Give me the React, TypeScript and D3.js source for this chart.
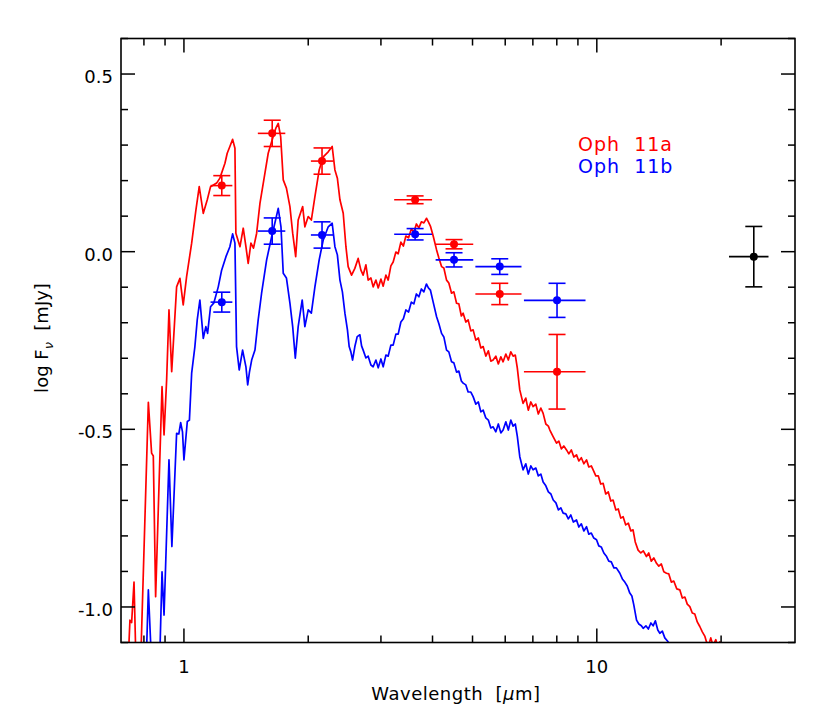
import { scaleLog, scaleLinear, line, range } from 'd3'

// model spectra: [wavelength (um), log F_nu (mJy)]
const OPH11A_SPECTRUM: [number, number][] = [
  [0.733, -1.15], [0.740, -1.037], [0.747, -1.044], [0.757, -0.930], [0.765, -1.15], [0.786, -1.15],
  [0.820, -0.424], [0.835, -0.567], [0.843, -0.575], [0.854, -0.971], [0.885, -0.380], [0.895, -0.516],
  [0.908, -0.361], [0.920, -0.164], [0.934, -0.338], [0.960, -0.099], [0.978, -0.075], [0.996, -0.150],
  [1.015, -0.070], [1.044, 0.024], [1.069, 0.117], [1.089, 0.183], [1.114, 0.108], [1.139, 0.146],
  [1.160, 0.183], [1.200, 0.193], [1.222, 0.207], [1.257, 0.249], [1.273, 0.277], [1.292, 0.296],
  [1.312, 0.316], [1.329, 0.291], [1.336, 0.052], [1.367, 0.014], [1.392, 0.066], [1.413, 0.014],
  [1.431, -0.033], [1.453, 0.024], [1.474, 0.010], [1.500, 0.052], [1.528, 0.136], [1.571, 0.221],
  [1.600, 0.277], [1.645, 0.324], [1.670, 0.348], [1.692, 0.361], [1.715, 0.324], [1.740, 0.202],
  [1.771, 0.179], [1.806, 0.127], [1.834, 0.052], [1.865, -0.014], [1.891, 0.089], [1.939, 0.127],
  [1.963, 0.070], [2.000, 0.099], [2.035, 0.089], [2.076, 0.155], [2.126, 0.230], [2.175, 0.267],
  [2.236, 0.281], [2.286, 0.296], [2.321, 0.230], [2.353, 0.207], [2.387, 0.146], [2.431, 0.108],
  [2.468, 0.014], [2.499, -0.042], [2.547, -0.066], [2.594, -0.047], [2.642, -0.019], [2.683, -0.052],
  [2.717, -0.066], [2.759, -0.037], [2.794, -0.080], [2.837, -0.074], [2.873, -0.099], [2.917, -0.080],
  [2.955, -0.102], [3.000, -0.077], [3.038, -0.097], [3.084, -0.066], [3.124, -0.080], [3.171, -0.040],
  [3.212, -0.029], [3.261, -0.001], [3.303, -0.006], [3.353, 0.027], [3.400, 0.016], [3.448, 0.044],
  [3.500, 0.039], [3.554, 0.064], [3.605, 0.055], [3.656, 0.078], [3.707, 0.067], [3.759, 0.084],
  [3.812, 0.081], [3.870, 0.094], [3.909, 0.084], [3.953, 0.072], [4.015, 0.044], [4.092, 0.005],
  [4.145, -0.018], [4.207, -0.042], [4.261, -0.046], [4.326, -0.080], [4.381, -0.088], [4.448, -0.117],
  [4.506, -0.113], [4.574, -0.145], [4.633, -0.147], [4.698, -0.181], [4.745, -0.173], [4.817, -0.198],
  [4.879, -0.192], [4.953, -0.223], [5.017, -0.220], [5.093, -0.249], [5.165, -0.243], [5.237, -0.271],
  [5.305, -0.267], [5.385, -0.294], [5.461, -0.279], [5.537, -0.308], [5.609, -0.305], [5.694, -0.294],
  [5.774, -0.316], [5.855, -0.296], [5.930, -0.310], [6.021, -0.288], [6.105, -0.305], [6.190, -0.282],
  [6.270, -0.294], [6.347, -0.291], [6.418, -0.327], [6.508, -0.389], [6.628, -0.427], [6.729, -0.412],
  [6.824, -0.446], [6.920, -0.423], [7.010, -0.436], [7.116, -0.429], [7.217, -0.457], [7.318, -0.440],
  [7.413, -0.455], [7.525, -0.485], [7.632, -0.491], [7.696, -0.502], [7.826, -0.519], [7.988, -0.539],
  [8.091, -0.533], [8.204, -0.555], [8.320, -0.547], [8.446, -0.558], [8.555, -0.569], [8.676, -0.558],
  [8.798, -0.578], [8.930, -0.572], [9.046, -0.589], [9.173, -0.580], [9.301, -0.597], [9.443, -0.586],
  [9.563, -0.606], [9.698, -0.603], [9.797, -0.614], [9.945, -0.631], [10.08, -0.631], [10.22, -0.654],
  [10.36, -0.652], [10.51, -0.682], [10.66, -0.676], [10.81, -0.702], [10.95, -0.699], [11.12, -0.727],
  [11.27, -0.724], [11.43, -0.750], [11.58, -0.746], [11.75, -0.769], [11.92, -0.764], [12.09, -0.786],
  [12.24, -0.783], [12.39, -0.817], [12.59, -0.840], [12.78, -0.848], [12.96, -0.842], [13.19, -0.858],
  [13.36, -0.848], [13.55, -0.871], [13.74, -0.862], [13.95, -0.877], [14.13, -0.885], [14.33, -0.879],
  [14.53, -0.901], [14.75, -0.905], [14.94, -0.907], [15.15, -0.930], [15.36, -0.927], [15.62, -0.949],
  [15.89, -0.952], [16.11, -0.975], [16.34, -0.972], [16.56, -0.992], [16.80, -0.999], [17.03, -1.017],
  [17.27, -1.020], [17.51, -1.042], [17.76, -1.055], [18.01, -1.070], [18.26, -1.082], [18.43, -1.098],
  [18.67, -1.107], [18.88, -1.087], [19.12, -1.109], [19.42, -1.092], [19.64, -1.115], [19.86, -1.098],
  [20.19, -1.121],
]

const OPH11B_SPECTRUM: [number, number][] = [
  [0.812, -1.12], [0.820, -0.952], [0.832, -1.12], [0.875, -1.12], [0.885, -0.901], [0.895, -1.023],
  [0.920, -0.586], [0.935, -0.830], [0.960, -0.511], [0.972, -0.513], [0.982, -0.481], [0.992, -0.507],
  [1.000, -0.586], [1.019, -0.478], [1.031, -0.474], [1.044, -0.342], [1.063, -0.267], [1.077, -0.192],
  [1.093, -0.136], [1.114, -0.244], [1.130, -0.211], [1.141, -0.230], [1.160, -0.155], [1.182, -0.144],
  [1.211, -0.099], [1.234, -0.052], [1.264, -0.014], [1.292, 0.014], [1.312, 0.050], [1.329, 0.024],
  [1.341, -0.267], [1.361, -0.333], [1.387, -0.277], [1.413, -0.324], [1.427, -0.375], [1.441, -0.339],
  [1.459, -0.305], [1.486, -0.277], [1.513, -0.192], [1.542, -0.117], [1.586, -0.023], [1.631, 0.042],
  [1.667, 0.089], [1.692, 0.122], [1.718, 0.070], [1.740, -0.061], [1.771, -0.074], [1.806, -0.145],
  [1.834, -0.211], [1.861, -0.300], [1.891, -0.211], [1.934, -0.136], [1.963, -0.211], [2.000, -0.164],
  [2.035, -0.173], [2.076, -0.099], [2.126, -0.023], [2.175, 0.033], [2.236, 0.070], [2.286, 0.080],
  [2.321, 0.014], [2.353, -0.009], [2.387, -0.080], [2.420, -0.113], [2.454, -0.173], [2.489, -0.220],
  [2.513, -0.267], [2.537, -0.282], [2.561, -0.305], [2.594, -0.267], [2.628, -0.239], [2.668, -0.234],
  [2.693, -0.265], [2.717, -0.277], [2.759, -0.299], [2.794, -0.294], [2.837, -0.319], [2.873, -0.324],
  [2.917, -0.305], [2.955, -0.327], [3.000, -0.302], [3.038, -0.324], [3.084, -0.291], [3.124, -0.294],
  [3.171, -0.263], [3.212, -0.263], [3.261, -0.232], [3.303, -0.232], [3.353, -0.198], [3.400, -0.189],
  [3.448, -0.164], [3.500, -0.170], [3.554, -0.142], [3.605, -0.147], [3.656, -0.119], [3.707, -0.127],
  [3.759, -0.105], [3.812, -0.113], [3.866, -0.091], [3.909, -0.102], [3.953, -0.108], [4.015, -0.142],
  [4.092, -0.183], [4.145, -0.203], [4.207, -0.230], [4.261, -0.240], [4.326, -0.277], [4.381, -0.282],
  [4.448, -0.310], [4.506, -0.313], [4.574, -0.339], [4.633, -0.336], [4.698, -0.364], [4.745, -0.370],
  [4.817, -0.375], [4.879, -0.395], [4.953, -0.395], [5.017, -0.408], [5.093, -0.429], [5.165, -0.423],
  [5.237, -0.451], [5.305, -0.446], [5.385, -0.468], [5.461, -0.474], [5.537, -0.496], [5.609, -0.493],
  [5.694, -0.507], [5.774, -0.485], [5.855, -0.510], [5.930, -0.502], [6.021, -0.479], [6.105, -0.502],
  [6.190, -0.474], [6.270, -0.491], [6.347, -0.485], [6.418, -0.519], [6.508, -0.577], [6.628, -0.614],
  [6.729, -0.597], [6.824, -0.626], [6.920, -0.603], [7.010, -0.614], [7.116, -0.609], [7.217, -0.631],
  [7.318, -0.626], [7.413, -0.648], [7.525, -0.659], [7.632, -0.676], [7.741, -0.682], [7.842, -0.699],
  [7.961, -0.707], [8.073, -0.727], [8.182, -0.721], [8.289, -0.736], [8.414, -0.738], [8.531, -0.752],
  [8.650, -0.741], [8.773, -0.761], [8.930, -0.755], [9.046, -0.775], [9.173, -0.766], [9.301, -0.786],
  [9.443, -0.774], [9.563, -0.795], [9.698, -0.792], [9.834, -0.806], [9.984, -0.811], [10.11, -0.828],
  [10.25, -0.831], [10.40, -0.848], [10.56, -0.858], [10.69, -0.871], [10.84, -0.873], [11.00, -0.890],
  [11.15, -0.890], [11.37, -0.905], [11.53, -0.921], [11.69, -0.930], [11.85, -0.941], [12.02, -0.961],
  [12.16, -0.969], [12.29, -0.994], [12.48, -1.037], [12.64, -1.048], [12.82, -1.053], [12.95, -1.060],
  [13.15, -1.053], [13.33, -1.062], [13.52, -1.045], [13.69, -1.053], [13.86, -1.039], [14.05, -1.065],
  [14.21, -1.074], [14.41, -1.068], [14.61, -1.087], [14.88, -1.098], [15.03, -1.115],
]

// photometry (J, H, K, IRAC 3.6/4.5/5.8/8.0)
const BAND_WAVE = [1.235, 1.636, 2.16, 3.63, 4.51, 5.82, 8.01]
const BAND_LO = [1.16, 1.51, 2.03, 3.23, 4.07, 5.08, 6.66]
const BAND_HI = [1.31, 1.76, 2.3, 3.99, 5.02, 6.57, 9.39]
const OPH11A_FLUX = [0.186, 0.333, 0.255, 0.146, 0.021, -0.119, -0.338]
const OPH11A_ERR = [0.028, 0.037, 0.037, 0.011, 0.013, 0.03, 0.105]
const OPH11B_FLUX = [-0.142, 0.058, 0.047, 0.049, -0.023, -0.042, -0.137]
const OPH11B_ERR = [0.028, 0.037, 0.037, 0.016, 0.02, 0.022, 0.048]

// unresolved 24 um point
const MIPS_WAVE = [24.0]
const MIPS_LO = [20.9]
const MIPS_HI = [26.05]
const MIPS_FLUX = [-0.014]
const MIPS_ERR = [0.085]

const X_MAJOR = [1, 10]
const X_MINOR = [0.8, 0.9, 2, 3, 4, 5, 6, 7, 8, 9, 20]
const Y_MAJOR = [-1.0, -0.5, 0.0, 0.5]
const LEGEND = ['Oph\u00a0\u00a011a', 'Oph\u00a0\u00a011b']

const RED = '#ff0000'
const BLUE = '#0000ff'
const FONT = '"DejaVu Sans", sans-serif'

function ErrPoints({ x, y, wave, lo, hi, flux, err, color }: any) {
  const cap = 8.5
  return (
    <g stroke={color} strokeWidth={1.6} fill={color}>
      {wave.map((w: number, i: number) => (
        <g key={i}>
          <line x1={x(lo[i])} x2={x(hi[i])} y1={y(flux[i])} y2={y(flux[i])} />
          <line x1={x(w)} x2={x(w)} y1={y(flux[i] + err[i])} y2={y(flux[i] - err[i])} />
          <line x1={x(w) - cap} x2={x(w) + cap} y1={y(flux[i] + err[i])} y2={y(flux[i] + err[i])} />
          <line x1={x(w) - cap} x2={x(w) + cap} y1={y(flux[i] - err[i])} y2={y(flux[i] - err[i])} />
          <circle cx={x(w)} cy={y(flux[i])} r={4} stroke='none' />
        </g>
      ))}
    </g>
  )
}

export default function App() {
  const width = 830
  const height = 724
  const left = 121
  const right = 795
  const top = 38.5
  const bottom = 642.5

  const x = scaleLog().domain([0.704, 30.2]).range([left, right])
  const y = scaleLinear().domain([-1.1, 0.6]).range([bottom, top])

  const yMinor = range(-11, 7).map((d) => d / 10).filter((d) => Math.round(d * 10) % 5 !== 0)

  const path = line<[number, number]>()
    .x((d) => x(d[0]))
    .y((d) => y(d[1]))

  const major = 14
  const minor = 7

  return (
    <svg
      width={width}
      height={height}
      style={{ position: 'absolute', left: 0, top: 0, background: '#fff' }}
      fontFamily={FONT}
    >
      <defs>
        <clipPath id='plot'>
          <rect x={left} y={top} width={right - left} height={bottom - top} />
        </clipPath>
      </defs>

      {/* spectra */}
      <g clipPath='url(#plot)' fill='none' strokeWidth={1.7} strokeLinejoin='round'>
        <path d={path(OPH11A_SPECTRUM) ?? ''} stroke={RED} />
        <path d={path(OPH11B_SPECTRUM) ?? ''} stroke={BLUE} />
      </g>

      {/* photometry */}
      <ErrPoints x={x} y={y} wave={BAND_WAVE} lo={BAND_LO} hi={BAND_HI} flux={OPH11A_FLUX} err={OPH11A_ERR} color={RED} />
      <ErrPoints x={x} y={y} wave={BAND_WAVE} lo={BAND_LO} hi={BAND_HI} flux={OPH11B_FLUX} err={OPH11B_ERR} color={BLUE} />
      <ErrPoints x={x} y={y} wave={MIPS_WAVE} lo={MIPS_LO} hi={MIPS_HI} flux={MIPS_FLUX} err={MIPS_ERR} color='#000' />

      {/* frame */}
      <rect x={left} y={top} width={right - left} height={bottom - top} fill='none' stroke='#000' strokeWidth={1.6} />

      {/* ticks */}
      <g stroke='#000' strokeWidth={1.5}>
        {X_MAJOR.map((t) => (
          <g key={'M' + t}>
            <line x1={x(t)} x2={x(t)} y1={bottom} y2={bottom - major} />
            <line x1={x(t)} x2={x(t)} y1={top} y2={top + major} />
          </g>
        ))}
        {X_MINOR.map((t) => (
          <g key={'m' + t}>
            <line x1={x(t)} x2={x(t)} y1={bottom} y2={bottom - minor} />
            <line x1={x(t)} x2={x(t)} y1={top} y2={top + minor} />
          </g>
        ))}
        {Y_MAJOR.map((t) => (
          <g key={'Y' + t}>
            <line x1={left} x2={left + major} y1={y(t)} y2={y(t)} />
            <line x1={right} x2={right - major} y1={y(t)} y2={y(t)} />
          </g>
        ))}
        {yMinor.map((t) => (
          <g key={'y' + t}>
            <line x1={left} x2={left + minor} y1={y(t)} y2={y(t)} />
            <line x1={right} x2={right - minor} y1={y(t)} y2={y(t)} />
          </g>
        ))}
      </g>

      {/* tick labels */}
      <g fontSize={18} fill='#000'>
        {X_MAJOR.map((t) => (
          <text key={t} x={x(t)} y={673} textAnchor='middle'>
            {t}
          </text>
        ))}
        {Y_MAJOR.map((t) => (
          <text key={t} x={113} y={y(t) + 9} textAnchor='end'>
            {t.toFixed(1)}
          </text>
        ))}
      </g>

      {/* axis titles */}
      <text x={456} y={700} fontSize={18} textAnchor='middle' letterSpacing={0.5}>
        {'Wavelength\u00a0\u00a0['}
        <tspan fontStyle='italic'>{'\u03bc'}</tspan>
        {'m]'}
      </text>
      <text transform='translate(48, 338) rotate(-90)' fontSize={18} textAnchor='middle'>
        {'log F'}
        <tspan fontSize={13} dy={5} fontStyle='italic'>{'\u03bd'}</tspan>
        <tspan dy={-5}>{'\u00a0\u00a0[mJy]'}</tspan>
      </text>

      {/* legend */}
      <g fontSize={19} letterSpacing={1}>
        <text x={578} y={151} fill={RED}>{LEGEND[0]}</text>
        <text x={578} y={173} fill={BLUE}>{LEGEND[1]}</text>
      </g>
    </svg>
  )
}
